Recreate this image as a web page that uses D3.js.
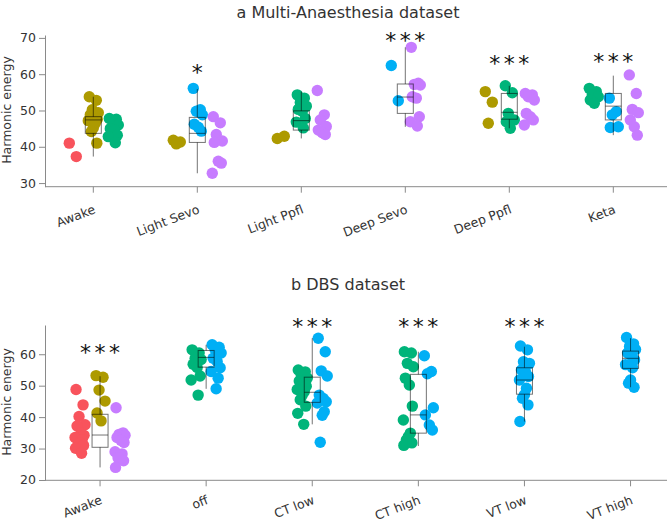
<!DOCTYPE html>
<html><head><meta charset="utf-8">
<script src="https://cdn.jsdelivr.net/npm/d3@7"></script>
<style>body{margin:0;background:#fff}svg{display:block}text{font-family:"DejaVu Sans",sans-serif}</style>
</head><body>
<script>
// ---------- DATA ----------
const hueColors = {red:"#F8535C", olive:"#AD9A00", green:"#00B47A", blue:"#00AFF5", purple:"#C77CFF"};

const catsA = ["Awake","Light Sevo","Light Ppfl","Deep Sevo","Deep Ppfl","Keta"];
const ticksA = [30,40,50,60,70];
const pointsA = [
  {cat:"Awake", hue:"red",   values:[41.0,37.3]},
  {cat:"Awake", hue:"olive", values:[53.8,52.8,50.2,49.4,48.8,47.9,47.6,47.2,46.5,45.2,44.2,41.0]},
  {cat:"Awake", hue:"green", values:[47.8,47.6,47.3,46.0,45.0,44.6,43.2,42.8,41.1]},
  {cat:"Light Sevo", hue:"olive",  values:[41.8,41.3,40.8]},
  {cat:"Light Sevo", hue:"blue",   values:[56.1,50.2,49.8,48.8,46.2,45.4,44.3]},
  {cat:"Light Sevo", hue:"purple", values:[48.3,46.6,43.4,41.6,41.2,36.0,35.5,32.7]},
  {cat:"Light Ppfl", hue:"olive",  values:[42.3,42.9]},
  {cat:"Light Ppfl", hue:"green",  values:[54.3,53.4,52.2,51.2,50.3,49.8,47.8,46.8,45.2]},
  {cat:"Light Ppfl", hue:"purple", values:[55.5,48.8,47.4,45.6,44.6,43.9,43.4]},
  {cat:"Deep Sevo", hue:"blue",   values:[62.4,52.7]},
  {cat:"Deep Sevo", hue:"purple", values:[67.4,57.5,57.2,57.0,53.8,53.4,48.3,46.9,45.7]},
  {cat:"Deep Ppfl", hue:"olive",  values:[55.2,52.3,46.5]},
  {cat:"Deep Ppfl", hue:"green",  values:[56.8,54.9,49.2,47.4,46.9,45.1]},
  {cat:"Deep Ppfl", hue:"purple", values:[54.7,54.3,53.8,52.9,49.2,48.3,47.4,46.0]},
  {cat:"Keta", hue:"green",  values:[56.1,55.2,54.3,53.8,52.9,52.0]},
  {cat:"Keta", hue:"blue",   values:[53.4,49.7,48.8,45.5,45.3]},
  {cat:"Keta", hue:"purple", values:[59.8,54.7,50.3,49.4,47.4,45.5,43.2]}
];
// box stats: [whiskerLow, q1, median, q3, whiskerHigh]
const boxesA = [
  [37.3,43.7,47.4,48.3,53.8],
  [32.7,41.2,43.7,48.1,55.9],
  [42.3,44.6,47.2,49.9,55.2],
  [45.5,49.2,53.7,57.3,67.4],
  [45.1,47.6,49.5,54.7,56.8],
  [43.2,47.4,51.2,54.7,59.6]
];
const starsA = [
  {cat:"Light Sevo", label:"*",   value:61.7},
  {cat:"Deep Sevo",  label:"***", value:70.6},
  {cat:"Deep Ppfl",  label:"***", value:64.2},
  {cat:"Keta",       label:"***", value:64.8}
];

const catsB = ["Awake","off","CT low","CT high","VT low","VT high"];
const ticksB = [20,30,40,50,60];
const pointsB = [
  {cat:"Awake", hue:"red",    values:[48.8,43.9,40.2,37.6,37.2,34.9,34.2,33.5,32.7,31.8,31.3,31.0,30.1,28.5]},
  {cat:"Awake", hue:"olive",  values:[53.2,52.7,48.6,45.1,41.3,38.8]},
  {cat:"Awake", hue:"purple", values:[43.0,35.0,34.5,34.2,33.5,32.6,31.9,29.0,28.3,27.8,27.0,26.1,24.0]},
  {cat:"off", hue:"green", values:[61.4,60.4,58.7,58.3,56.8,55.8,53.1,51.8,47.0]},
  {cat:"off", hue:"blue",  values:[63.0,62.2,61.4,60.4,58.7,57.7,55.7,54.5,52.4,49.0]},
  {cat:"CT low", hue:"green", values:[55.0,54.4,53.4,52.4,51.5,50.8,49.8,48.8,48.1,47.0,45.5,43.5,41.2,37.7]},
  {cat:"CT low", hue:"blue",  values:[65.1,60.8,54.7,53.1,47.0,45.9,44.9,44.5,41.7,40.6,32.0]},
  {cat:"CT high", hue:"green", values:[60.8,60.4,57.1,56.0,52.4,50.2,43.5,39.1,34.9,33.8,32.7,31.8,31.0]},
  {cat:"CT high", hue:"blue",  values:[59.5,54.5,53.8,43.0,40.7,37.5,35.9]},
  {cat:"VT low", hue:"blue", values:[62.6,61.4,57.6,57.1,55.0,54.4,52.9,51.8,49.2,47.1,46.0,43.9,38.6]},
  {cat:"VT high", hue:"blue", values:[65.3,63.3,62.5,61.5,60.4,59.5,58.2,56.7,55.7,51.8,50.8,49.5]}
];
const boxesB = [
  [24.0,30.4,34.3,40.9,53.0],
  [49.0,55.9,59.0,61.2,63.0],
  [37.7,44.7,47.9,52.7,65.1],
  [30.8,34.9,40.7,53.6,60.8],
  [38.6,47.3,51.8,55.7,62.4],
  [49.5,55.5,58.7,61.0,65.1]
];
const starsB = [
  {cat:"Awake",   label:"***", value:61.9},
  {cat:"CT low",  label:"***", value:70.2},
  {cat:"CT high", label:"***", value:70.2},
  {cat:"VT low",  label:"***", value:70.2}
];

// ---------- DRAW ----------
const W = 667, H = 522;
const svg = d3.select("body").append("svg").attr("width", W).attr("height", H);
const jitter = [-4,3,-1,5,-3,1,4,-5,2,0,-2,3.5,-4.5,1.5];

function panel(opt){
  const g = svg.append("g");
  const x = d3.scaleBand().domain(opt.cats).range(opt.xRange);
  const y = d3.scaleLinear().domain(opt.yDomain).range(opt.yRange);
  const cx = c => x(c) + x.bandwidth()/2;

  // title
  g.append("text").attr("x", opt.titleX).attr("y", opt.titleY).attr("text-anchor","middle")
    .attr("font-size", 16).attr("fill","#333").text(opt.title);

  // y axis
  const ya = g.append("g").attr("transform", `translate(${opt.axisX},0)`)
    .call(d3.axisLeft(y).tickValues(opt.ticks).tickSize(6).tickSizeOuter(0).tickPadding(3));
  ya.select(".domain").attr("stroke","#8a8a8a");
  ya.selectAll(".tick line").attr("stroke","#8a8a8a");
  ya.selectAll(".tick text").attr("font-size",12.5).attr("fill","#333").attr("font-family","DejaVu Sans");

  // x axis
  const xa = g.append("g").attr("transform", `translate(0,${opt.yRange[0]})`)
    .call(d3.axisBottom(x).tickSize(6).tickSizeOuter(0));
  xa.select(".domain").remove();
  xa.selectAll(".tick line").attr("stroke","#8a8a8a");
  xa.selectAll(".tick text").attr("font-size",12.5).attr("fill","#333").attr("font-family","DejaVu Sans")
    .attr("text-anchor","end").attr("y",0).attr("dy",0)
    .attr("transform",`translate(3,${opt.labelOff}) rotate(-21)`);
  g.append("line").attr("x1",opt.axisX).attr("x2",W).attr("y1",opt.yRange[0]).attr("y2",opt.yRange[0])
    .attr("stroke","#8a8a8a");

  // y label
  g.append("text").attr("transform", `translate(${opt.labelX},${opt.labelY}) rotate(-90)`)
    .attr("text-anchor","middle").attr("font-size",12.5).attr("fill","#333").text("Harmonic energy");

  // points
  const hueCount = {};
  opt.points.forEach(p => { hueCount[p.cat] = (hueCount[p.cat]||[]).concat([p.hue]); });
  opt.points.forEach(p => {
    const hs = hueCount[p.cat];
    const k = hs.indexOf(p.hue);
    const off = (k - (hs.length-1)/2) * 20;
    g.append("g").selectAll("circle").data(p.values).join("circle")
      .attr("cx", (v,i) => cx(p.cat) + off + jitter[i % jitter.length])
      .attr("cy", v => y(v)).attr("r", 5.7).attr("fill", hueColors[p.hue]);
  });

  // boxes
  const bw = 16;
  opt.cats.forEach((c,i) => {
    const b = opt.boxes[i], xc = cx(c);
    const bg = g.append("g").attr("stroke","#000").attr("stroke-opacity",0.55).attr("fill","none").attr("stroke-width",1);
    bg.append("line").attr("x1",xc).attr("x2",xc).attr("y1",y(b[0])).attr("y2",y(b[1]));
    bg.append("line").attr("x1",xc).attr("x2",xc).attr("y1",y(b[3])).attr("y2",y(b[4]));
    bg.append("rect").attr("x",xc-bw/2).attr("width",bw).attr("y",y(b[3])).attr("height",y(b[1])-y(b[3]));
    bg.append("line").attr("x1",xc-bw/2).attr("x2",xc+bw/2).attr("y1",y(b[2])).attr("y2",y(b[2]));
  });

  // stars
  opt.stars.forEach(s => {
    g.append("text").attr("x", cx(s.cat) + (s.label.length>1?1.75:0)).attr("y", y(s.value) + 12)
      .attr("text-anchor","middle").attr("font-size",22).attr("letter-spacing", s.label.length>1?3.5:0)
      .attr("fill","#111").text(s.label);
  });
}

panel({cats:catsA, points:pointsA, boxes:boxesA, stars:starsA, ticks:ticksA,
  xRange:[41.3,665.3], yDomain:[29,70.8], yRange:[186.7,35], axisX:45, labelOff:26,
  title:"a Multi-Anaesthesia dataset", titleX:348, titleY:18, labelX:11, labelY:110});
panel({cats:catsB, points:pointsB, boxes:boxesB, stars:starsB, ticks:ticksB,
  xRange:[47,683.6], yDomain:[19.9,69.3], yRange:[480.3,325], axisX:45, labelOff:23,
  title:"b DBS dataset", titleX:348, titleY:290, labelX:11, labelY:402});
</script>
</body></html>
